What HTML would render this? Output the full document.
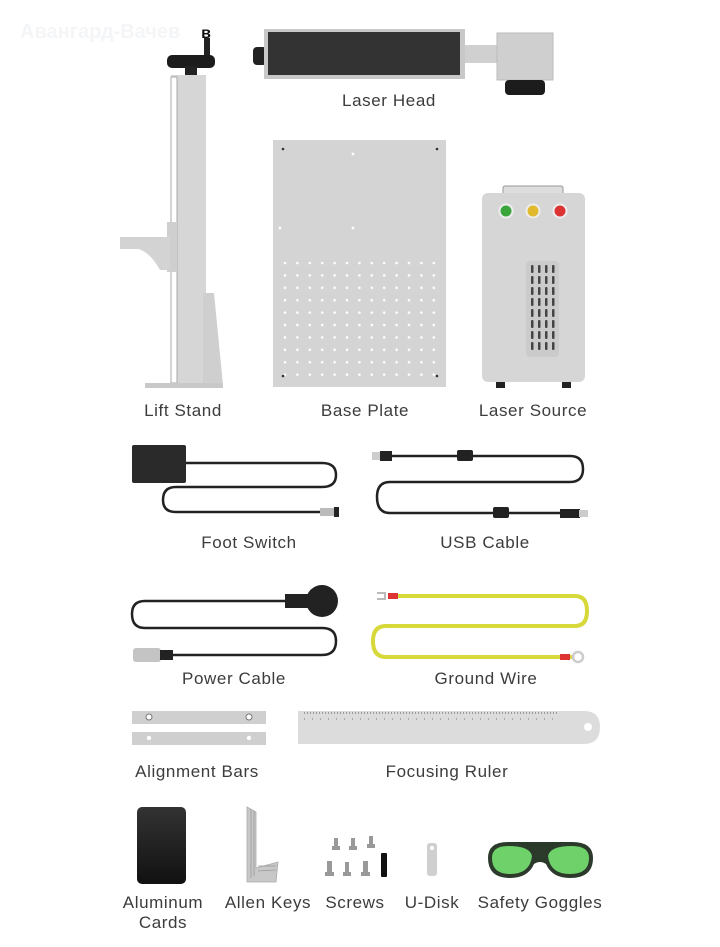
<!DOCTYPE html>
<html><head><meta charset="utf-8"><style>
html,body{margin:0;padding:0;background:#fff;width:720px;height:947px;overflow:hidden}
svg{display:block}
text{font-family:"Liberation Sans",sans-serif;font-size:17px;fill:#3c3c3c;text-anchor:middle;letter-spacing:0.6px}
</style></head><body>
<svg width="720" height="947" viewBox="0 0 720 947" xmlns="http://www.w3.org/2000/svg">
<defs>
<pattern id="dots" x="281" y="259" width="12.4" height="12.4" patternUnits="userSpaceOnUse"><circle cx="4" cy="4" r="1.3" fill="#fff"/></pattern>
<pattern id="vent" x="530" y="265" width="7" height="11" patternUnits="userSpaceOnUse"><rect x="1" y="0" width="2.5" height="8" rx="1" fill="#444"/></pattern>
<linearGradient id="card" x1="0" y1="0" x2="0" y2="1"><stop offset="0" stop-color="#333"/><stop offset="1" stop-color="#111"/></linearGradient>
</defs>
<text x="20" y="38" style="text-anchor:start;font-size:20px;font-weight:bold;fill:#f4f5f7;letter-spacing:0">Авангард-Вачев</text>
<text x="206" y="38" style="font-size:16px;font-weight:bold;fill:#111;letter-spacing:0">в</text>

<!-- Laser head -->
<rect x="253" y="47" width="14" height="18" rx="4" fill="#222"/>
<rect x="264" y="29" width="201" height="50" fill="#c8c8c8"/>
<rect x="268" y="32" width="192" height="43" fill="#333"/>
<rect x="465" y="45" width="33" height="18" fill="#d0d0d0"/>
<rect x="497" y="33" width="56" height="47" fill="#cfcfcf" stroke="#bbb"/>
<rect x="505" y="80" width="40" height="15" rx="4" fill="#1c1c1c"/>
<text x="389" y="106">Laser Head</text>

<!-- Lift stand -->
<rect x="204" y="38" width="6" height="22" fill="#222"/>
<rect x="167" y="55" width="48" height="13" rx="5" fill="#1c1c1c"/>
<rect x="185" y="66" width="12" height="9" fill="#222"/>
<rect x="171" y="75" width="35" height="312" fill="#d6d6d6"/>
<rect x="171" y="77" width="6" height="306" fill="#fff" stroke="#aaa" stroke-width="1"/>
<rect x="167" y="222" width="10" height="50" fill="#cfcfcf"/>
<path d="M120 237 L170 237 L170 270 L160 270 Q150 252 138 249 L120 249 Z" fill="#d3d3d3"/>
<path d="M203 293 L214 293 L223 385 L203 385 Z" fill="#cfcfcf"/>
<rect x="145" y="383" width="78" height="5" fill="#c9c9c9"/>
<text x="183" y="416">Lift Stand</text>

<!-- Base plate -->
<rect x="273" y="140" width="173" height="247" fill="#d4d4d4"/>
<rect x="281" y="259" width="161" height="124" fill="url(#dots)"/>
<circle cx="283" cy="149" r="1.3" fill="#333"/><circle cx="437" cy="149" r="1.3" fill="#333"/>
<circle cx="283" cy="376" r="1.3" fill="#333"/><circle cx="437" cy="376" r="1.3" fill="#333"/>
<circle cx="353" cy="154" r="1.4" fill="#fff"/><circle cx="280" cy="228" r="1.4" fill="#fff"/><circle cx="353" cy="228" r="1.4" fill="#fff"/>
<text x="365" y="416">Base Plate</text>

<!-- Laser source -->
<rect x="503" y="186" width="60" height="9" rx="2" fill="#ddd" stroke="#999"/>
<rect x="482" y="193" width="103" height="189" rx="6" fill="#d6d6d6"/>
<circle cx="506" cy="211" r="6.5" fill="#3aa53a" stroke="#eee" stroke-width="2"/>
<circle cx="533" cy="211" r="6.5" fill="#e0b92c" stroke="#eee" stroke-width="2"/>
<circle cx="560" cy="211" r="6.5" fill="#d33" stroke="#eee" stroke-width="2"/>
<rect x="526" y="261" width="33" height="96" rx="4" fill="#cbcbcb"/>
<rect x="530" y="265" width="27" height="88" fill="url(#vent)"/>
<rect x="496" y="382" width="9" height="6" fill="#222"/><rect x="562" y="382" width="9" height="6" fill="#222"/>
<text x="533" y="416">Laser Source</text>

<!-- Foot switch -->
<path d="M186 463 H322 Q336 463 336 475 Q336 487 322 487 H176 Q163 487 163 500 Q163 512 176 512 H322" fill="none" stroke="#222" stroke-width="2.5"/>
<rect x="132" y="445" width="54" height="38" rx="2" fill="#2a2a2a"/>
<rect x="320" y="508" width="14" height="8" fill="#bbb"/><rect x="334" y="507" width="5" height="10" fill="#222"/>
<text x="249" y="548">Foot Switch</text>

<!-- USB cable -->
<path d="M392 456 H570 Q583 456 583 469 Q583 482 570 482 H390 Q377 482 377 497 Q377 513 390 513 H565" fill="none" stroke="#222" stroke-width="2.5"/>
<rect x="372" y="452" width="8" height="8" fill="#ccc"/><rect x="380" y="451" width="12" height="10" fill="#222"/>
<rect x="457" y="450" width="16" height="11" rx="2" fill="#222"/>
<rect x="493" y="507" width="16" height="11" rx="2" fill="#222"/>
<rect x="560" y="509" width="20" height="9" fill="#222"/><rect x="579" y="510" width="9" height="7" fill="#ccc"/>
<text x="485" y="548">USB Cable</text>

<!-- Power cable -->
<path d="M290 601 H145 Q132 601 132 614 Q132 628 145 628 H322 Q336 628 336 641 Q336 655 322 655 H170" fill="none" stroke="#222" stroke-width="2.5"/>
<rect x="285" y="594" width="28" height="14" fill="#222"/>
<circle cx="322" cy="601" r="16" fill="#222"/>
<rect x="133" y="648" width="28" height="14" rx="3" fill="#c4c4c4"/><rect x="160" y="650" width="13" height="10" fill="#222"/>
<text x="234" y="684">Power Cable</text>

<!-- Ground wire -->
<path d="M388 596 H575 Q587 596 587 611 Q587 626 575 626 H386 Q373 626 373 641 Q373 657 386 657 H572" fill="none" stroke="#d7d83a" stroke-width="4"/>
<rect x="388" y="593" width="10" height="6" fill="#d33"/><rect x="560" y="654" width="10" height="6" fill="#d33"/>
<path d="M377 593 h8 v6 h-8" fill="none" stroke="#bbb" stroke-width="2"/>
<circle cx="578" cy="657" r="5" fill="none" stroke="#ccc" stroke-width="2.5"/>
<text x="486" y="684">Ground Wire</text>

<!-- Alignment bars -->
<rect x="132" y="711" width="134" height="13" fill="#cfcfcf"/>
<rect x="132" y="732" width="134" height="13" fill="#cfcfcf"/>
<circle cx="149" cy="717" r="3" fill="#fff" stroke="#777"/><circle cx="249" cy="717" r="3" fill="#fff" stroke="#777"/>
<circle cx="149" cy="738" r="2.2" fill="#fff"/><circle cx="249" cy="738" r="2.2" fill="#fff"/>
<text x="197" y="777">Alignment Bars</text>

<!-- Focusing ruler -->
<path d="M298 711 H584 Q600 711 600 727 Q600 744 584 744 H298 Z" fill="#dcdcdc"/>
<line x1="304" y1="713" x2="558" y2="713" stroke="#999" stroke-width="2" stroke-dasharray="1 2"/>
<line x1="304" y1="719" x2="558" y2="719" stroke="#aaa" stroke-width="2" stroke-dasharray="1 7"/>
<circle cx="588" cy="727" r="4" fill="#fff"/>
<text x="447" y="777">Focusing Ruler</text>

<!-- Bottom items -->
<rect x="137" y="807" width="49" height="77" rx="5" fill="url(#card)"/>
<path d="M247 807 L256 812 L256 868 L278 862 L276 882 L247 882 Z" fill="#c8c8c8" stroke="#aaa" stroke-width="0.8"/>
<path d="M251 809 V878 M254 811 V876 M258 866 L276 866 M258 871 L276 870" stroke="#999" stroke-width="0.8" fill="none"/>
<g fill="#999">
<rect x="334" y="838" width="4" height="10"/><rect x="332" y="846" width="8" height="4"/>
<rect x="351" y="838" width="4" height="10"/><rect x="349" y="846" width="8" height="4"/>
<rect x="369" y="836" width="4" height="10"/><rect x="367" y="844" width="8" height="4"/>
<rect x="327" y="861" width="5" height="14"/><rect x="325" y="872" width="9" height="4"/>
<rect x="345" y="862" width="4" height="13"/><rect x="343" y="872" width="8" height="4"/>
<rect x="363" y="861" width="5" height="14"/><rect x="361" y="872" width="9" height="4"/>
</g>
<rect x="381" y="853" width="6" height="24" rx="1" fill="#111"/>
<rect x="427" y="843" width="10" height="33" rx="3" fill="#cfcfcf"/><circle cx="432" cy="848" r="2" fill="#fff"/>
<path d="M488 858 Q488 842 508 842 L572 842 Q593 842 593 858 Q593 878 570 878 Q552 878 546 864 Q540 860 534 864 Q528 878 510 878 Q488 878 488 858 Z" fill="#2c3a2c"/>
<path d="M492 858 Q492 846 508 846 Q530 846 532 856 Q530 874 510 874 Q492 874 492 858 Z" fill="#6fd16a"/>
<path d="M589 858 Q589 846 572 846 Q550 846 548 856 Q550 874 570 874 Q589 874 589 858 Z" fill="#6fd16a"/>
<text x="163" y="908">Aluminum</text>
<text x="163" y="928">Cards</text>
<text x="268" y="908">Allen Keys</text>
<text x="355" y="908">Screws</text>
<text x="432" y="908">U-Disk</text>
<text x="540" y="908">Safety Goggles</text>
</svg>
</body></html>
